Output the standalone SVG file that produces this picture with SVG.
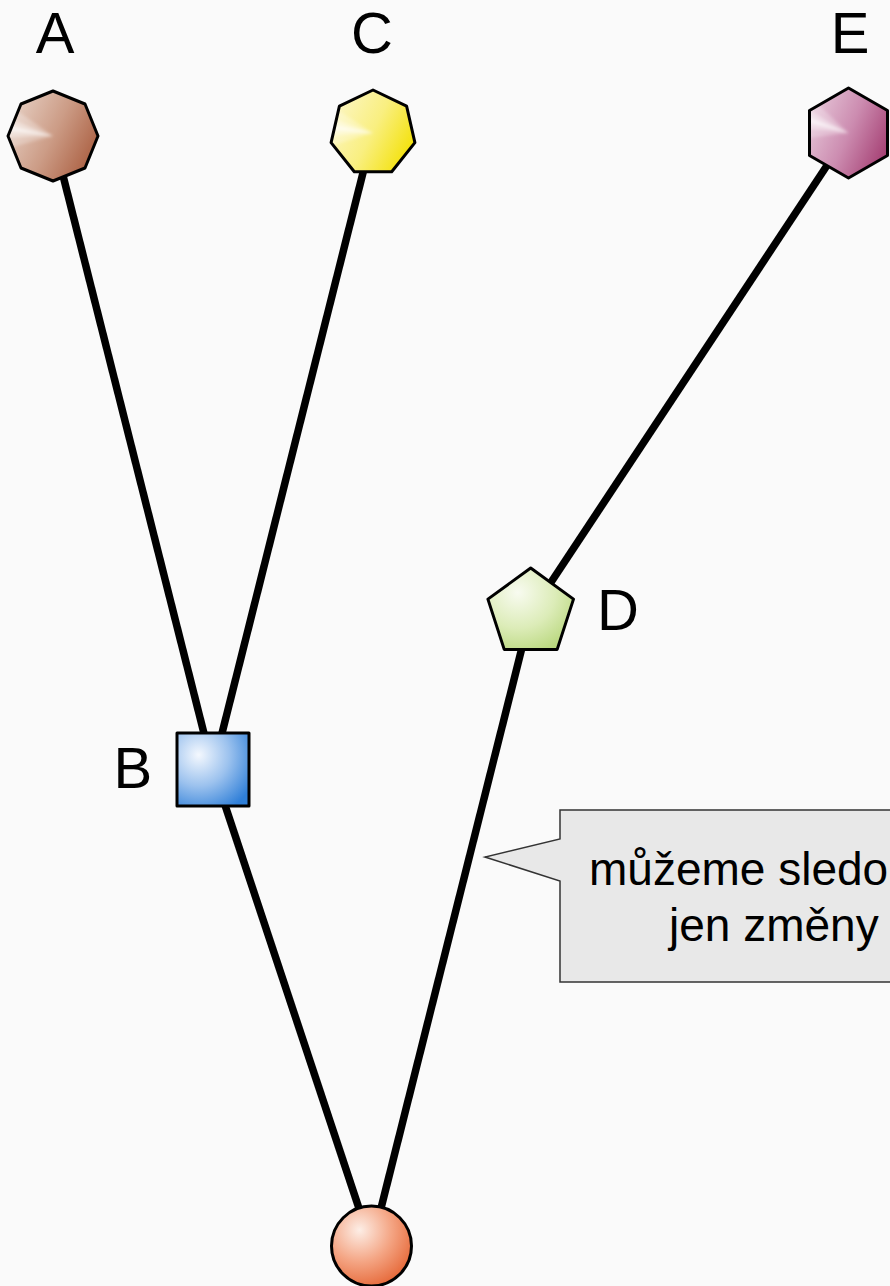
<svg xmlns="http://www.w3.org/2000/svg" width="890" height="1286" viewBox="0 0 890 1286">
<style>
.edge{stroke:#000;stroke-width:7.5;stroke-linecap:butt;fill:none}
.shape{stroke:#000;stroke-width:3;stroke-linejoin:round}
.lbl{font-family:"Liberation Sans",Arial,sans-serif;font-size:58px;fill:#000}
.note{font-family:"Liberation Sans",Arial,sans-serif;font-size:46px;fill:#000}
</style>
<defs>
<linearGradient id="gA" x1="0" y1="0.25" x2="1" y2="0.75"><stop offset="0" stop-color="#e6cfc3"/><stop offset="0.5" stop-color="#cc9c86"/><stop offset="1" stop-color="#a95c3e"/></linearGradient>
<linearGradient id="gC" x1="0" y1="0.25" x2="1" y2="0.75"><stop offset="0" stop-color="#fcf6c4"/><stop offset="0.5" stop-color="#f9ef80"/><stop offset="1" stop-color="#f3e000"/></linearGradient>
<linearGradient id="gE" x1="0" y1="0.25" x2="1" y2="0.75"><stop offset="0" stop-color="#e6c6d8"/><stop offset="0.5" stop-color="#cc8cb0"/><stop offset="1" stop-color="#a43e72"/></linearGradient>
<radialGradient id="gB" cx="0.3" cy="0.3" r="0.85" fx="0.3" fy="0.3"><stop offset="0" stop-color="#f4f8fe"/><stop offset="0.5" stop-color="#9cc2ee"/><stop offset="1" stop-color="#2f7fd8"/></radialGradient>
<radialGradient id="gD" cx="0.35" cy="0.3" r="0.8" fx="0.35" fy="0.3"><stop offset="0" stop-color="#f8fbf0"/><stop offset="0.55" stop-color="#dcecb8"/><stop offset="1" stop-color="#b8d77c"/></radialGradient>
<radialGradient id="gR" cx="0.35" cy="0.3" r="0.8" fx="0.35" fy="0.3"><stop offset="0" stop-color="#fdeee6"/><stop offset="0.5" stop-color="#f4a584"/><stop offset="1" stop-color="#e4602e"/></radialGradient>
<clipPath id="cA"><polygon points="0,-45 32,-32 45,0 32,32 0,45 -32,32 -45,0 -32,-32"/></clipPath>
<clipPath id="cC"><polygon points="0,-43 33.6,-26.8 41.9,9.6 18.7,38.7 -18.7,38.7 -41.9,9.6 -33.6,-26.8"/></clipPath>
<clipPath id="cE"><polygon points="0,-45 39,-22.5 39,22.5 0,45 -39,22.5 -39,-22.5"/></clipPath>
<filter id="soft" x="-50%" y="-50%" width="200%" height="200%"><feGaussianBlur stdDeviation="1.5"/></filter>
<g id="rays">
<polygon points="0,0 -54.4,-25.4 -54.4,25.4" fill="#fff" fill-opacity="0.25"/>
<polygon points="0,0 -58.7,-12.5 -58.7,12.5" fill="#fff" fill-opacity="0.35"/>
<polygon points="0,0 -59.9,-4.2 -59.9,4.2" fill="#fff" fill-opacity="0.55"/>
</g>
</defs>
<rect width="890" height="1286" fill="#fafafa"/>
<g id="connectors">
<line class="edge" x1="53" y1="136" x2="213" y2="769"/>
<line class="edge" x1="373" y1="133" x2="213" y2="769"/>
<line class="edge" x1="213" y1="769" x2="371.5" y2="1246"/>
<line class="edge" x1="530.7" y1="613" x2="371.5" y2="1246"/>
<line class="edge" x1="848.5" y1="133" x2="530.7" y2="613"/>
</g>
<g id="nodeA" transform="translate(53,136)">
<polygon points="0,-45 32,-32 45,0 32,32 0,45 -32,32 -45,0 -32,-32" fill="url(#gA)"/>
<g clip-path="url(#cA)"><g filter="url(#soft)" transform="rotate(10)"><use href="#rays"/></g></g>
<polygon class="shape" points="0,-45 32,-32 45,0 32,32 0,45 -32,32 -45,0 -32,-32" fill="none"/>
<text class="lbl" x="2" y="-83.5" text-anchor="middle">A</text>
</g>
<g id="nodeC" transform="translate(373,133)">
<polygon points="0,-43 33.6,-26.8 41.9,9.6 18.7,38.7 -18.7,38.7 -41.9,9.6 -33.6,-26.8" fill="url(#gC)"/>
<g clip-path="url(#cC)"><g filter="url(#soft)" transform="rotate(8)"><use href="#rays"/></g></g>
<polygon class="shape" points="0,-43 33.6,-26.8 41.9,9.6 18.7,38.7 -18.7,38.7 -41.9,9.6 -33.6,-26.8" fill="none"/>
<text class="lbl" x="-1" y="-80" text-anchor="middle">C</text>
</g>
<g id="nodeE" transform="translate(848.5,133)">
<polygon points="0,-45 39,-22.5 39,22.5 0,45 -39,22.5 -39,-22.5" fill="url(#gE)"/>
<g clip-path="url(#cE)"><g filter="url(#soft)" transform="rotate(18)"><use href="#rays"/></g></g>
<polygon class="shape" points="0,-45 39,-22.5 39,22.5 0,45 -39,22.5 -39,-22.5" fill="none"/>
<text class="lbl" x="1.5" y="-80.5" text-anchor="middle">E</text>
</g>
<g id="nodeD">
<polygon class="shape" points="530.7,568 573.5,599.1 557.2,649.4 504.2,649.4 487.9,599.1" fill="url(#gD)"/>
<text class="lbl" x="597" y="630">D</text>
</g>
<g id="nodeB">
<rect class="shape" x="177" y="733" width="72" height="73" fill="url(#gB)"/>
<text class="lbl" x="113.5" y="788">B</text>
</g>
<g id="nodeRoot">
<circle class="shape" cx="371.5" cy="1246" r="40" fill="url(#gR)"/>
</g>
<g id="callout">
<path d="M560,810 H895 V982 H560 V881 L485,857 L560,839 Z" fill="#e8e8e8" stroke="#333" stroke-width="1.5"/>
<text class="note" x="589" y="885">můžeme sledo</text>
<text class="note" x="669" y="941">jen změny</text>
</g>
</svg>
